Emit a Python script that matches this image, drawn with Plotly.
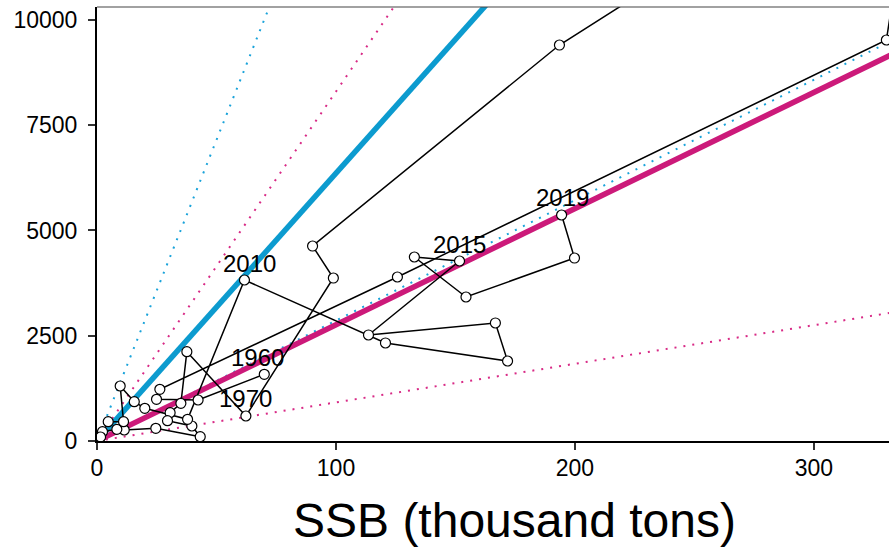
import plotly.graph_objects as go

# ---- data ----
years = [1960, 1961, 1962, 1963, 1964, 1965, 1966, 1967, 1968, 1969, 1970,
         1971, 1972, 1973, 1974, 1975, 1976, 1977, 1978, 1979, 1980, 1981,
         1982, 1983, 1984, 1985, 1986, 2009,
         2010, 2011, 2012, 2013, 2014, 2015, 2016, 2017, 2018, 2019]
ssb = [70.0, 42.3, 24.9, 26.3, 125.7, 330.3, 345.0, 193.5, 90.2, 98.9, 62.3,
       37.6, 35.1, 30.6, 29.5, 39.7, 43.2, 24.6, 11.4, 8.3, 2.3, 1.5,
       4.7, 11.1, 9.7, 15.6, 20.0, 37.9,
       61.7, 120.7, 171.8, 166.7, 113.6, 151.7, 132.8, 154.4, 199.8, 194.4]
recruits = [1584, 974, 990, 1228, 3895, 9524, 14860, 9405, 4631, 3871, 594,
            2121, 895, 672, 482, 356, 102, 302, 261, 278, 221, 95,
            458, 458, 1306, 933, 777, 515,
            3824, 2328, 1900, 2803, 2518, 4275, 4370, 3420, 4346, 5368]
label_years = [1960, 1970, 2010, 2015, 2019]

x_ticks = [0, 100, 200, 300]
y_ticks = [0, 2500, 5000, 7500, 10000]

# replacement lines through the origin (recruits per thousand tons SSB)
ref_names = ["blue_median", "blue_upper", "blue_lower",
             "pink_median", "pink_upper", "pink_lower"]
ref_slopes = [63.6, 143.0, 28.6, 27.6, 83.0, 9.17]

# ---- styles ----
BLUE = "#0C9BCF"
PINK = "#CC1A7A"
DOTS = "2px,7px"
ref_styles = {
    "blue_median": dict(color=BLUE, width=5.5, dash="solid"),
    "blue_upper": dict(color="#1AA3DA", width=2, dash=DOTS),
    "blue_lower": dict(color="#1AA3DA", width=2, dash=DOTS),
    "pink_median": dict(color=PINK, width=5.5, dash="solid"),
    "pink_upper": dict(color="#D82A86", width=2, dash=DOTS),
    "pink_lower": dict(color="#D82A86", width=2, dash=DOTS),
}
label_xshift = {1960: -7, 1970: 0, 2010: 5, 2015: 0, 2019: 1}

FONT = "Liberation Sans, Arial, sans-serif"
X_MAX = 331.4
Y_MAX = 10308

fig = go.Figure()

x_line = [0, 420]
draw_order = ["pink_lower", "pink_upper", "blue_upper", "blue_lower",
              "blue_median", "pink_median"]
for name in draw_order:
    s = ref_slopes[ref_names.index(name)]
    fig.add_trace(go.Scatter(
        x=x_line, y=[v * s for v in x_line], mode="lines",
        line=ref_styles[name], hoverinfo="skip", showlegend=False))

fig.add_trace(go.Scatter(
    x=ssb, y=recruits, mode="lines+markers",
    line=dict(color="black", width=1.5),
    marker=dict(size=10, color="white", line=dict(color="black", width=1.2)),
    showlegend=False, hovertext=[str(y) for y in years]))

for yr in label_years:
    i = years.index(yr)
    fig.add_annotation(
        x=ssb[i], y=recruits[i], text=str(yr), showarrow=False,
        xref="x", yref="y", yanchor="middle", xanchor="center",
        yshift=17, xshift=label_xshift[yr],
        font=dict(family=FONT, size=24, color="black"))

fig.add_annotation(
    x=0.5275, y=-0.184, xref="paper", yref="paper",
    text="SSB (thousand tons)", showarrow=False,
    xanchor="center", yanchor="middle",
    font=dict(family=FONT, size=48, color="black"))

# top border of the panel
fig.add_shape(type="line", xref="paper", yref="paper", x0=0, x1=1, y0=1, y1=1,
              line=dict(color="#444444", width=1.2))

fig.update_layout(
    width=889, height=547,
    margin=dict(l=97, r=0, t=7, b=106, autoexpand=False),
    plot_bgcolor="white", paper_bgcolor="white",
    font=dict(family=FONT, color="black"),
    showlegend=False,
    xaxis=dict(range=[0, X_MAX], tickvals=x_ticks, tickformat="d",
               automargin=False,
               showgrid=False, zeroline=False,
               showline=True, linecolor="black", linewidth=2,
               ticks="outside", ticklen=7, tickwidth=1.5, tickcolor="#333333",
               tickfont=dict(family=FONT, size=23, color="black"),
               ticklabelstandoff=-2),
    yaxis=dict(range=[0, Y_MAX], tickvals=y_ticks, tickformat="d",
               automargin=False,
               showgrid=False, zeroline=False,
               showline=True, linecolor="black", linewidth=2,
               ticks="outside", ticklen=7, tickwidth=1.5, tickcolor="#333333",
               tickfont=dict(family=FONT, size=23, color="black"),
               ticklabelstandoff=6),
)

fig.write_html("out.html",
               config={"displayModeBar": False},
               post_script="document.body.style.margin='0';"
                           "document.body.style.overflow='hidden';")
